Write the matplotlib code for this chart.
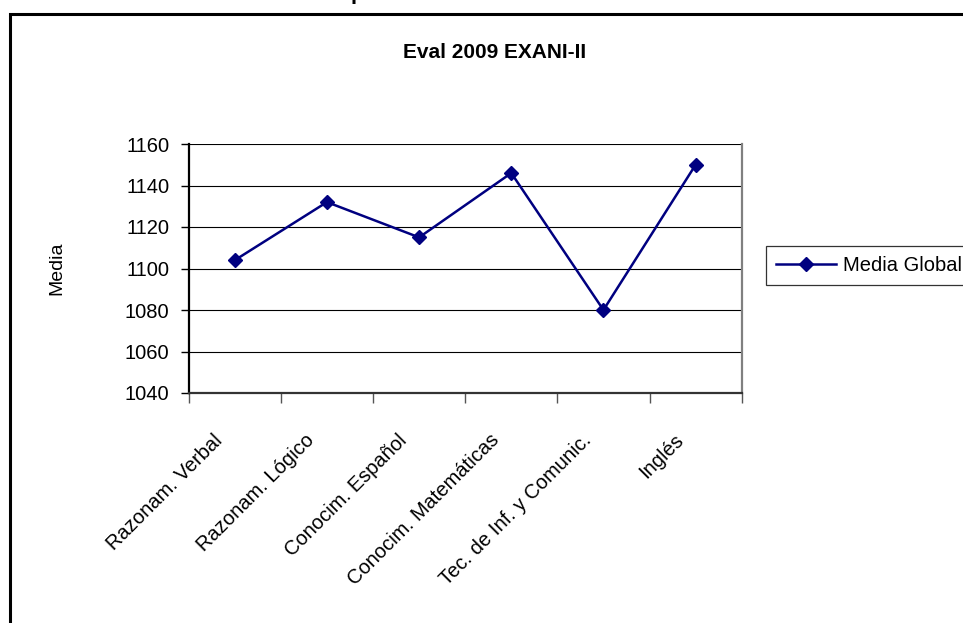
import matplotlib
matplotlib.use("Agg")
import matplotlib.pyplot as plt
from matplotlib.patches import Rectangle
import numpy as np

# Data
categories = ["Razonam. Verbal", "Razonam. Lógico", "Conocim. Español",
              "Conocim. Matemáticas", "Tec. de Inf. y Comunic.", "Inglés"]
media_global = [1104, 1132, 1115, 1146, 1080, 1150]
y_ticks = [1040, 1060, 1080, 1100, 1120, 1140, 1160]

NARROW = ["Liberation Sans Narrow", "Liberation Sans", "DejaVu Sans"]
REGULAR = ["Liberation Sans", "DejaVu Sans"]
NAVY = "#000080"

W, H = 963, 623
fig = plt.figure(figsize=(W / 100, H / 100), dpi=100)
fig.patch.set_facecolor("white")

def fx(px):
    return px / W

def fy(py):
    return 1 - py / H

# outer chart-area frame (left and top edges visible)
frame = Rectangle((fx(10), fy(700)), 2.0, fy(14.5) - fy(700),
                  transform=fig.transFigure, fill=False,
                  edgecolor="black", linewidth=2.2, zorder=0)
fig.patches.append(frame)

# clipped descender of a heading above the chart
fig.text(fx(357), fy(-1), "p", family=NARROW, fontweight="bold",
         fontsize=16, ha="center", va="baseline")

ax = fig.add_axes([fx(188.7), fy(393), fx(741.7) - fx(188.7), fy(144) - fy(393)])
x = np.arange(len(categories))

ax.plot(x, media_global, color=NAVY, linewidth=1.8, marker="D",
        markersize=7.5, markerfacecolor=NAVY, markeredgecolor=NAVY,
        label="Media Global", zorder=3)

ax.set_xlim(-0.5, len(categories) - 0.5)
ax.set_ylim(y_ticks[0], y_ticks[-1])
ax.set_yticks(y_ticks)
ax.set_yticklabels([str(v) for v in y_ticks], family=NARROW, fontsize=14.5)
ax.tick_params(axis="y", direction="out", length=6, width=1, pad=8, color="black")

# category boundaries carry the tick marks; labels sit at category centers
ax.set_xticks(np.arange(-0.5, len(categories), 1.0))
ax.set_xticklabels([])
ax.tick_params(axis="x", direction="out", length=7, width=1, color="#555555")

for i, lab in enumerate(categories):
    ax.annotate(lab, xy=(i, 0), xycoords=("data", "axes fraction"),
                xytext=(-11, -32), textcoords="offset points",
                ha="right", va="center", rotation=45, rotation_mode="anchor",
                family=NARROW, fontsize=14.5)

ax.grid(axis="y", color="black", linewidth=0.8, zorder=1)
ax.set_axisbelow(True)

ax.spines["top"].set_visible(False)
ax.spines["left"].set_color("black")
ax.spines["left"].set_linewidth(1.6)
ax.spines["bottom"].set_color("#333333")
ax.spines["bottom"].set_linewidth(1.6)
ax.spines["right"].set_color("#808080")
ax.spines["right"].set_linewidth(1.6)

ax.set_ylabel("Media", family=REGULAR, fontsize=14, va="center")
ax.yaxis.set_label_coords((56.5 - 188.7) / (741.7 - 188.7), 0.5)

fig.text(fx(495), fy(52), "Eval 2009 EXANI-II", family=NARROW,
         fontweight="bold", fontsize=15, ha="center", va="center")

handles, labels = ax.get_legend_handles_labels()
leg = fig.legend(handles, labels, loc="upper left",
                 bbox_to_anchor=(fx(766), fy(246)), borderaxespad=0,
                 frameon=True, fancybox=False, edgecolor="black",
                 handlelength=3.0, handletextpad=0.3, borderpad=0.5,
                 numpoints=1, prop={"family": NARROW, "size": 14.5})
leg.get_frame().set_linewidth(0.9)

fig.savefig("out.png", dpi=100, facecolor="white")
